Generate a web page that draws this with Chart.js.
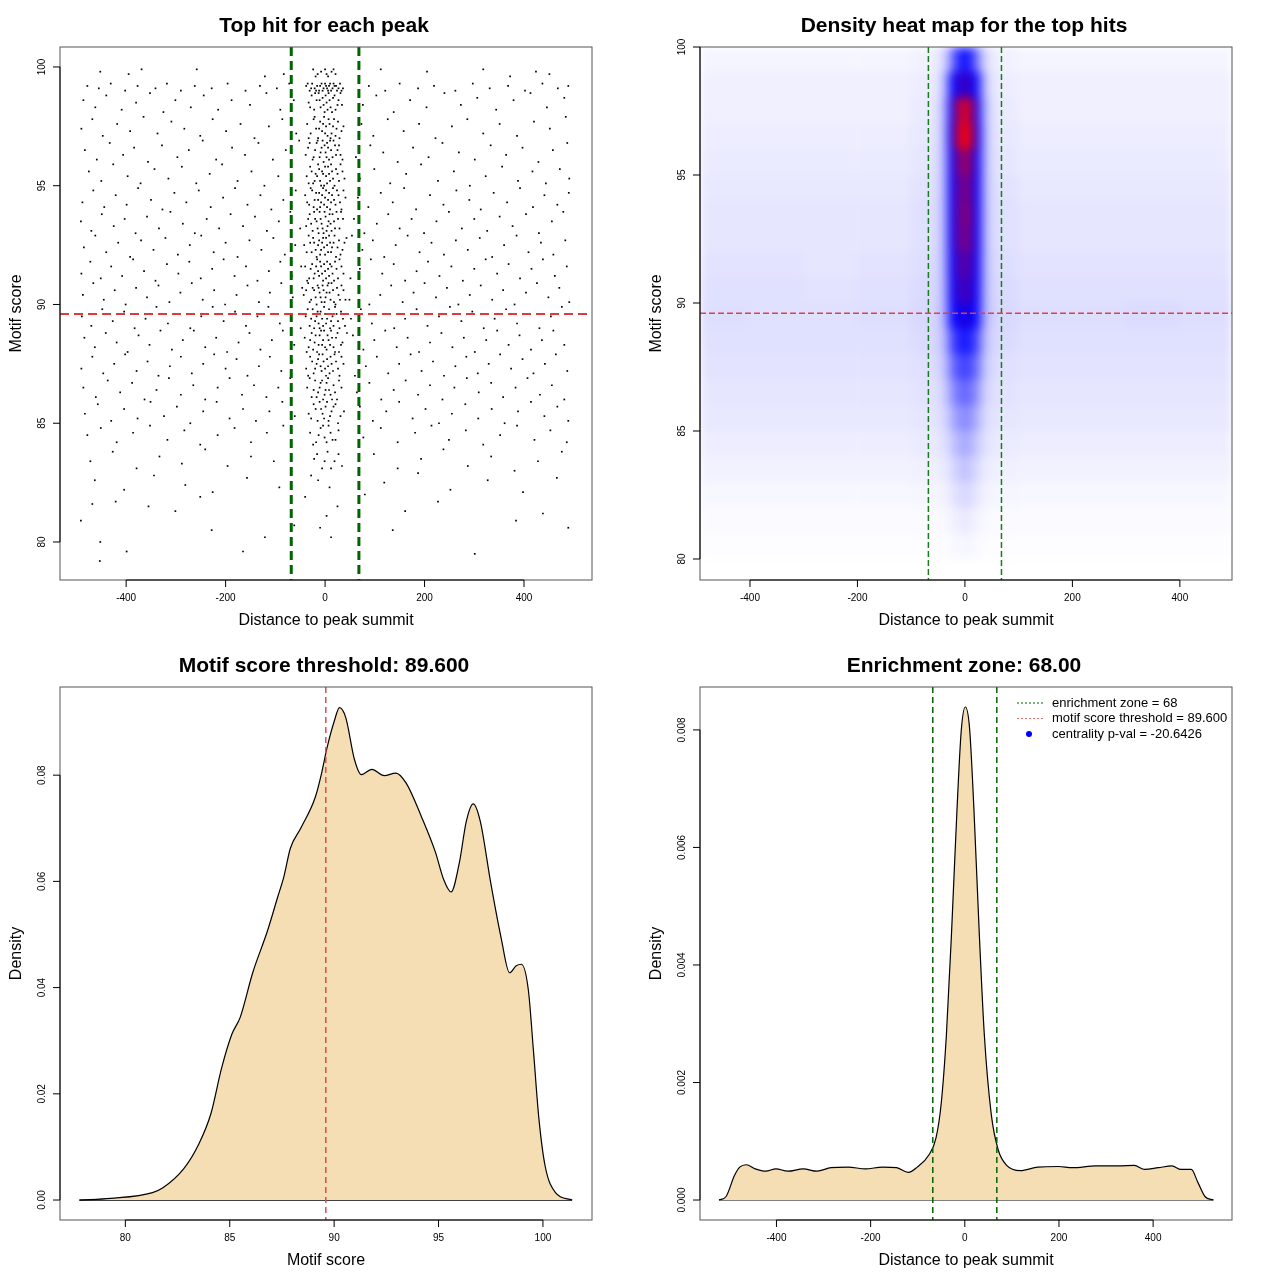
<!DOCTYPE html>
<html>
<head>
<meta charset="utf-8">
<script src="https://cdn.jsdelivr.net/npm/chart.js@4.4.1/dist/chart.umd.min.js"></script>
<style>
  body { margin: 0; background: #fff; }
  canvas { position: absolute; }
</style>
</head>
<body>
<canvas id="hits" width="640" height="640" style="left:0;top:0"></canvas>
<canvas id="heat" width="640" height="640" style="left:640px;top:0"></canvas>
<canvas id="scoreDens" width="640" height="640" style="left:0;top:640px"></canvas>
<canvas id="distDens" width="640" height="640" style="left:640px;top:640px"></canvas>
<script>
// ---- values ----
const enrichZone = 68;
const scoreThreshold = 89.6;
const distTicks = [-400, -200, 0, 200, 400];
const scoreTicks = [80, 85, 90, 95, 100];
const scoreDensTicks = [0, 0.02, 0.04, 0.06, 0.08];
const distDensTicks = [0, 0.002, 0.004, 0.006, 0.008];
const legendLabels = ['enrichment zone = 68', 'motif score threshold = 89.600', 'centrality p-val = -20.6426'];

// top hits away from the summit  [distance, score]
const flankHits = [
  [-452,99.8],[-395,99.7],[-369,99.9],[-258,99.9],[-121,99.6],[-83,99.7],[112,99.9],[205,99.8],[318,99.9],[372,99.6],[424,99.8],[451,99.7],
  [-478,99.2],[-455,99.1],[-431,99.3],[-402,99.0],[-377,99.2],[-341,99.1],[-318,99.3],[-290,99.0],[-262,99.2],[-228,99.1],[-196,99.3],[-160,99.0],[-131,99.2],[-97,99.1],[-72,99.3],[88,99.2],[121,99.0],[150,99.3],[187,99.1],[219,99.2],[262,99.0],[297,99.3],[331,99.1],[368,99.2],[402,99.0],[437,99.3],[468,99.1],[489,99.2],
  [-486,98.6],[-462,98.3],[-440,98.8],[-409,98.2],[-380,98.5],[-352,98.9],[-325,98.1],[-301,98.6],[-270,98.3],[-244,98.8],[-215,98.2],[-188,98.6],[-151,98.4],[-118,98.9],[-90,98.2],[-63,98.6],[76,98.4],[103,98.8],[138,98.1],[171,98.6],[204,98.3],[240,98.9],[273,98.4],[306,98.7],[344,98.2],[379,98.6],[413,98.9],[446,98.3],[481,98.7],
  [-490,97.4],[-468,97.8],[-447,97.1],[-418,97.6],[-392,97.3],[-365,97.9],[-337,97.2],[-309,97.7],[-283,97.4],[-251,97.1],[-226,97.8],[-199,97.3],[-170,97.6],[-142,97.0],[-113,97.5],[-86,97.8],[-58,97.2],[73,97.6],[97,97.1],[126,97.8],[158,97.3],[189,97.6],[222,97.0],[255,97.5],[286,97.8],[318,97.2],[351,97.6],[386,97.1],[420,97.7],[452,97.4],[484,97.9],
  [-483,96.5],[-459,96.1],[-433,96.8],[-406,96.3],[-384,96.6],[-356,96.0],[-328,96.7],[-297,96.2],[-274,96.5],[-246,96.9],[-219,96.1],[-187,96.6],[-161,96.3],[-134,96.8],[-105,96.1],[-79,96.5],[-52,96.9],[62,96.2],[91,96.7],[117,96.4],[146,96.0],[177,96.6],[208,96.2],[236,96.8],[269,96.4],[301,96.1],[333,96.7],[364,96.3],[397,96.6],[429,96.0],[458,96.5],[487,96.8],
  [-475,95.6],[-450,95.2],[-426,95.9],[-397,95.4],[-371,95.1],[-343,95.7],[-315,95.3],[-288,95.8],[-259,95.1],[-232,95.5],[-207,95.9],[-176,95.2],[-148,95.6],[-122,95.0],[-94,95.4],[-68,95.8],[70,95.3],[99,95.7],[131,95.1],[163,95.5],[193,95.9],[227,95.2],[259,95.6],[291,95.0],[323,95.4],[356,95.8],[388,95.2],[417,95.6],[444,95.1],[472,95.7],[491,95.3],
  [-488,94.3],[-466,94.8],[-444,94.1],[-421,94.6],[-399,94.2],[-376,94.9],[-350,94.4],[-327,94.0],[-303,94.7],[-279,94.3],[-254,94.8],[-230,94.1],[-205,94.5],[-181,94.9],[-156,94.2],[-130,94.6],[-108,94.0],[-84,94.4],[-59,94.8],[66,94.5],[87,94.1],[112,94.7],[136,94.3],[159,94.9],[183,94.0],[211,94.6],[238,94.2],[264,94.8],[290,94.4],[313,94.0],[339,94.7],[366,94.3],[392,94.9],[418,94.1],[441,94.6],[467,94.2],[490,94.7],
  [-491,93.5],[-470,93.1],[-449,93.8],[-425,93.3],[-403,93.6],[-381,93.0],[-358,93.7],[-334,93.2],[-311,93.9],[-286,93.4],[-262,93.0],[-238,93.6],[-213,93.2],[-190,93.8],[-165,93.3],[-141,93.7],[-117,93.1],[-93,93.5],[-70,93.9],[-50,93.2],[58,93.6],[79,93.0],[104,93.4],[127,93.8],[150,93.2],[174,93.6],[199,93.0],[224,93.5],[249,93.9],[275,93.2],[300,93.6],[326,93.1],[351,93.7],[377,93.3],[404,93.8],[430,93.0],[456,93.5],[479,93.9],
  [-485,92.4],[-462,92.9],[-440,92.2],[-416,92.6],[-392,92.0],[-370,92.7],[-345,92.3],[-321,92.8],[-296,92.1],[-272,92.5],[-249,92.9],[-224,92.2],[-200,92.6],[-176,92.0],[-152,92.7],[-128,92.3],[-104,92.8],[-81,92.1],[-60,92.5],[54,92.9],[75,92.3],[96,92.7],[119,92.0],[142,92.5],[166,92.9],[190,92.2],[214,92.6],[239,92.1],[263,92.7],[287,92.3],[311,92.8],[336,92.0],[360,92.5],[385,92.9],[409,92.2],[434,92.6],[459,92.1],[483,92.7],
  [-490,91.3],[-472,91.8],[-451,91.1],[-430,91.6],[-408,91.2],[-386,91.9],[-364,91.4],[-341,91.0],[-318,91.7],[-295,91.3],[-273,91.8],[-250,91.1],[-227,91.5],[-204,91.9],[-182,91.2],[-159,91.6],[-136,91.0],[-113,91.4],[-90,91.8],[-67,91.2],[-48,91.6],[51,91.1],[70,91.5],[92,91.9],[115,91.3],[138,91.7],[161,91.0],[184,91.4],[207,91.8],[230,91.2],[254,91.6],[277,91.0],[300,91.5],[323,91.9],[346,91.3],[369,91.7],[392,91.1],[415,91.5],[438,91.9],[462,91.2],[486,91.6],
  [-487,90.4],[-466,90.9],[-445,90.2],[-423,90.6],[-401,90.0],[-380,90.7],[-358,90.3],[-335,90.8],[-313,90.1],[-291,90.5],[-268,90.9],[-246,90.2],[-223,90.6],[-201,90.0],[-178,90.4],[-156,90.8],[-133,90.1],[-111,90.5],[-88,90.9],[-65,90.3],[-46,90.7],[49,90.2],[68,90.6],[89,90.0],[111,90.4],[133,90.8],[156,90.1],[178,90.5],[200,90.9],[223,90.3],[245,90.7],[268,90.0],[291,90.4],[313,90.8],[336,90.2],[358,90.6],[381,90.0],[404,90.5],[426,90.9],[449,90.3],[471,90.7],[491,90.1],
  [-489,89.5],[-470,89.1],[-448,89.8],[-427,89.3],[-404,89.7],[-383,89.0],[-361,89.4],[-339,89.9],[-316,89.2],[-294,89.6],[-271,89.0],[-249,89.5],[-226,89.9],[-204,89.3],[-181,89.7],[-159,89.1],[-136,89.5],[-114,89.9],[-91,89.2],[-69,89.6],[-49,89.0],[52,89.4],[72,89.8],[94,89.2],[116,89.6],[139,89.0],[161,89.4],[184,89.8],[206,89.1],[229,89.5],[251,89.9],[274,89.3],[296,89.7],[319,89.0],[341,89.4],[364,89.8],[386,89.2],[409,89.6],[431,89.0],[454,89.5],[476,89.9],
  [-484,88.6],[-463,88.2],[-441,88.8],[-419,88.4],[-397,88.0],[-375,88.7],[-353,88.3],[-331,88.9],[-308,88.1],[-286,88.5],[-264,88.9],[-241,88.2],[-219,88.6],[-197,88.0],[-174,88.4],[-152,88.8],[-130,88.1],[-107,88.5],[-85,88.9],[-62,88.3],[56,88.7],[77,88.1],[99,88.5],[121,88.9],[144,88.2],[166,88.6],[189,88.0],[211,88.4],[234,88.8],[256,88.2],[279,88.6],[301,88.0],[324,88.5],[346,88.9],[369,88.3],[391,88.7],[414,88.1],[436,88.5],[459,88.9],[481,88.3],
  [-490,87.3],[-468,87.8],[-446,87.1],[-424,87.5],[-402,87.9],[-379,87.2],[-357,87.6],[-335,87.0],[-312,87.4],[-290,87.8],[-268,87.1],[-245,87.5],[-223,87.9],[-200,87.3],[-178,87.7],[-156,87.0],[-133,87.4],[-111,87.8],[-88,87.2],[-66,87.6],[60,87.0],[82,87.4],[104,87.8],[127,87.1],[149,87.5],[172,87.9],[194,87.2],[217,87.6],[239,87.0],[262,87.4],[284,87.8],[307,87.1],[329,87.5],[352,87.9],[374,87.3],[397,87.7],[419,87.1],[442,87.5],[464,87.9],[487,87.2],
  [-486,86.5],[-461,86.1],[-437,86.8],[-412,86.3],[-388,86.7],[-363,86.0],[-339,86.4],[-314,86.9],[-290,86.2],[-265,86.6],[-241,86.0],[-216,86.5],[-192,86.9],[-167,86.2],[-143,86.6],[-118,86.1],[-94,86.5],[-70,86.9],[64,86.3],[89,86.7],[113,86.0],[138,86.4],[162,86.8],[187,86.2],[211,86.6],[236,86.0],[260,86.5],[285,86.9],[309,86.3],[334,86.7],[358,86.1],[383,86.5],[407,86.9],[432,86.2],[456,86.6],[481,86.0],
  [-483,85.4],[-457,85.8],[-430,85.1],[-404,85.6],[-377,85.2],[-351,85.9],[-324,85.3],[-298,85.7],[-271,85.0],[-245,85.5],[-218,85.9],[-192,85.2],[-165,85.6],[-139,85.1],[-112,85.5],[-86,85.9],[-61,85.3],[70,85.7],[96,85.1],[123,85.5],[149,85.9],[176,85.2],[202,85.6],[229,85.0],[255,85.4],[282,85.8],[308,85.2],[335,85.6],[361,85.0],[388,85.5],[414,85.9],[441,85.3],[467,85.7],[489,85.1],
  [-478,84.5],[-451,84.8],[-419,84.2],[-386,84.6],[-352,84.9],[-317,84.3],[-283,84.7],[-251,84.1],[-216,84.5],[-182,84.8],[-149,84.2],[-117,84.6],[-84,84.9],[77,84.4],[112,84.8],[146,84.2],[181,84.6],[214,84.9],[249,84.3],[283,84.7],[318,84.1],[352,84.5],[386,84.9],[421,84.3],[453,84.7],[486,84.2],
  [-472,83.4],[-427,83.8],[-379,83.1],[-333,83.6],[-288,83.3],[-241,83.9],[-196,83.2],[-149,83.6],[-103,83.4],[98,83.7],[146,83.1],[193,83.5],[238,83.9],[287,83.2],[334,83.6],[381,83.0],[428,83.4],[476,83.8],
  [-463,82.6],[-404,82.2],[-344,82.8],[-281,82.4],[-226,82.1],[-157,82.7],[-92,82.3],[119,82.5],[187,82.9],[252,82.2],[327,82.6],[398,82.1],[466,82.7],
  [-491,80.9],[-468,81.6],[-452,80.0],[-421,81.7],[-399,79.6],[-453,79.2],[-355,81.5],[-301,81.3],[-228,80.5],[-165,79.6],[-121,80.2],[-62,80.7],[136,80.5],[161,81.3],[227,81.7],[301,79.5],[384,80.9],[438,81.2],[489,80.6],[-251,81.9],[80,82.0]
];

// top hits close to the summit  [distance, score]
const centralHits = [
  [-24,99.9],[-15,99.7],[-8,99.8],[0,99.9],[6,99.6],[13,99.8],[21,99.7],[-19,99.6],[3,99.7],[17,99.9],
  [-38,99.2],[-31,99.0],[-26,99.3],[-21,99.1],[-16,99.2],[-12,99.0],[-7,99.3],[-3,99.1],[2,99.2],[6,99.0],[10,99.3],[15,99.1],[19,99.2],[24,99.0],[30,99.3],[36,99.1],
  [-35,99.3],[-28,99.1],[-18,99.0],[-10,99.2],[-5,99.0],[0,99.3],[4,99.1],[8,99.2],[12,99.0],[17,99.3],[22,99.2],[27,99.1],[33,99.0],
  [-33,98.5],[-27,98.8],[-22,98.2],[-17,98.6],[-13,98.9],[-9,98.3],[-5,98.7],[-1,98.1],[3,98.5],[7,98.9],[11,98.3],[16,98.7],[21,98.2],[27,98.6],[34,98.4],
  [-30,98.3],[-20,98.9],[-11,98.6],[-3,98.4],[1,98.8],[5,98.2],[9,98.6],[14,98.1],[19,98.8],[25,98.4],[31,98.9],
  [-36,97.6],[-29,97.2],[-23,97.8],[-18,97.4],[-14,97.0],[-10,97.7],[-6,97.3],[-2,97.9],[2,97.5],[5,97.1],[9,97.6],[13,97.2],[18,97.8],[23,97.4],[29,97.0],[37,97.5],
  [-33,97.0],[-21,97.9],[-12,97.4],[-4,97.6],[0,97.2],[7,97.8],[11,97.0],[16,97.5],[21,97.1],[26,97.7],[33,97.3],
  [-39,96.3],[-31,96.8],[-25,96.1],[-20,96.5],[-15,96.9],[-11,96.2],[-7,96.6],[-3,96.0],[1,96.4],[4,96.8],[8,96.1],[12,96.5],[17,96.9],[22,96.3],[28,96.7],[35,96.1],
  [-34,96.6],[-23,96.2],[-17,96.8],[-9,96.4],[-5,96.9],[-1,96.7],[3,96.2],[6,96.6],[10,96.9],[15,96.2],[20,96.7],[25,96.5],[31,96.3],
  [-37,95.4],[-30,95.8],[-24,95.1],[-19,95.5],[-14,95.9],[-10,95.2],[-6,95.6],[-2,95.0],[2,95.4],[6,95.8],[10,95.2],[14,95.6],[19,95.0],[25,95.5],[31,95.9],[39,95.3],
  [-33,95.1],[-27,95.6],[-21,95.2],[-16,95.4],[-12,95.7],[-8,95.0],[-4,95.5],[0,95.8],[4,95.1],[8,95.5],[12,95.9],[16,95.3],[22,95.7],[28,95.2],[35,95.6],
  [-40,94.6],[-32,94.2],[-26,94.8],[-21,94.4],[-16,94.0],[-12,94.7],[-8,94.3],[-4,94.9],[0,94.5],[4,94.1],[8,94.7],[12,94.3],[16,94.9],[21,94.2],[27,94.6],[33,94.0],[41,94.5],
  [-36,94.3],[-29,94.9],[-23,94.1],[-18,94.7],[-14,94.4],[-10,94.1],[-6,94.6],[-2,94.2],[2,94.8],[6,94.4],[10,94.0],[14,94.6],[18,94.4],[24,94.8],[30,94.3],[37,94.8],
  [-38,93.3],[-31,93.8],[-25,93.1],[-20,93.6],[-15,93.2],[-11,93.9],[-7,93.4],[-3,93.0],[1,93.7],[5,93.3],[9,93.8],[13,93.1],[18,93.5],[23,93.9],[29,93.2],[36,93.6],
  [-34,93.6],[-28,93.4],[-22,93.9],[-17,93.5],[-13,93.0],[-9,93.6],[-5,93.2],[-1,93.9],[3,93.1],[7,93.5],[11,93.4],[15,93.8],[20,93.2],[26,93.6],[32,93.9],
  [-42,92.5],[-33,92.9],[-27,92.2],[-22,92.6],[-17,92.0],[-12,92.7],[-8,92.3],[-4,92.8],[0,92.1],[4,92.5],[8,92.9],[12,92.2],[17,92.6],[22,92.0],[28,92.7],[35,92.3],[43,92.8],
  [-37,92.2],[-30,92.6],[-24,92.8],[-19,92.3],[-14,92.5],[-10,92.1],[-6,92.6],[-2,92.4],[2,92.8],[6,92.2],[10,92.6],[14,92.4],[19,92.9],[25,92.4],[31,92.1],[39,92.6],
  [-40,91.6],[-32,91.1],[-26,91.7],[-21,91.3],[-16,91.9],[-12,91.2],[-8,91.6],[-4,91.0],[0,91.4],[4,91.8],[8,91.2],[13,91.6],[18,91.0],[23,91.5],[29,91.9],[37,91.3],
  [-36,91.0],[-29,91.5],[-23,91.1],[-18,91.6],[-14,91.4],[-10,91.8],[-6,91.3],[-2,91.7],[2,91.1],[6,91.5],[10,91.7],[15,91.3],[20,91.8],[26,91.1],[33,91.6],
  [-43,90.4],[-34,90.9],[-28,90.2],[-22,90.6],[-17,90.0],[-13,90.7],[-9,90.3],[-5,90.8],[-1,90.1],[3,90.5],[7,90.9],[11,90.2],[16,90.6],[21,90.0],[27,90.4],[33,90.8],[41,90.2],
  [-38,90.6],[-31,90.1],[-25,90.7],[-19,90.3],[-15,90.8],[-11,90.5],[-7,90.1],[-3,90.6],[1,90.3],[5,90.8],[9,90.5],[13,90.9],[18,90.1],[24,90.7],[30,90.2],[37,90.6],
  [-39,89.5],[-31,89.1],[-25,89.8],[-20,89.3],[-15,89.7],[-11,89.0],[-6,89.4],[-2,89.9],[2,89.2],[6,89.6],[10,89.0],[15,89.5],[20,89.9],[26,89.3],[32,89.7],[40,89.1],
  [-35,89.8],[-28,89.4],[-22,89.0],[-17,89.5],[-13,89.2],[-9,89.7],[-4,89.1],[0,89.6],[4,89.4],[8,89.8],[12,89.3],[17,89.1],[23,89.6],[29,89.0],[36,89.4],
  [-41,88.6],[-33,88.2],[-27,88.8],[-21,88.4],[-16,88.0],[-11,88.7],[-6,88.3],[-2,88.9],[3,88.1],[7,88.5],[12,88.9],[17,88.2],[22,88.6],[28,88.0],[35,88.4],[44,88.8],
  [-37,88.0],[-30,88.5],[-24,88.1],[-19,88.7],[-13,88.3],[-8,88.9],[-4,88.5],[0,88.2],[5,88.7],[10,88.3],[14,88.6],[20,88.0],[25,88.8],[32,88.3],
  [-38,87.3],[-30,87.8],[-23,87.1],[-17,87.5],[-12,87.9],[-7,87.2],[-3,87.6],[2,87.0],[6,87.4],[11,87.8],[16,87.2],[22,87.6],[29,87.0],[37,87.5],
  [-34,87.0],[-26,87.6],[-20,87.3],[-14,87.7],[-9,87.4],[-5,87.9],[0,87.3],[4,87.7],[9,87.1],[13,87.5],[19,87.9],[26,87.3],[33,87.8],
  [-36,86.5],[-27,86.1],[-20,86.8],[-14,86.3],[-9,86.7],[-4,86.0],[1,86.4],[6,86.9],[11,86.2],[17,86.6],[24,86.0],[33,86.5],
  [-31,86.9],[-23,86.4],[-17,86.1],[-11,86.5],[-6,86.8],[-1,86.2],[3,86.7],[8,86.4],[14,86.0],[20,86.3],[28,86.8],
  [-33,85.4],[-23,85.8],[-15,85.1],[-8,85.6],[-2,85.2],[4,85.9],[10,85.3],[17,85.7],[26,85.0],[38,85.5],
  [-28,85.2],[-19,85.6],[-11,85.9],[-5,85.4],[1,85.7],[7,85.1],[13,85.5],[21,85.8],[31,85.3],
  [-30,84.6],[-18,84.2],[-9,84.8],[-1,84.4],[7,84.9],[15,84.3],[27,84.7],
  [-24,84.1],[-13,84.5],[-4,84.9],[3,84.2],[11,84.6],[21,84.3],
  [-22,83.5],[-6,83.1],[5,83.8],[19,83.4],[34,83.2],[-16,83.7],[-1,83.4],[12,83.1],[27,83.7],
  [-14,82.6],[9,82.3],[-40,81.9],[25,81.5],[3,81.1],[-10,80.6],[12,80.2],[-28,82.8]
];

// density heat map: column edges (distance), row centres (score), levels 0 = white, 0.5 = blue, 1 = red
const heatXEdges = [-493,-400,-300,-200,-100,-60,-45,-32,-22,-12,-4,4,12,22,32,45,60,100,200,300,400,497];
const heatY = [99.5,98.5,97.5,96.5,95.5,94.5,93.5,92.5,91.5,90.5,89.5,88.5,87.5,86.5,85.5,84.5,83.5,82.5,81.5,80.5,79.5];
const heatLevels = [
  [.02,.02,.02,.02,.025,.04,.08,.20,.36,.44,.46,.44,.36,.20,.08,.04,.025,.02,.02,.02,.02],
  [.03,.03,.03,.03,.035,.05,.12,.38,.52,.60,.62,.60,.52,.38,.12,.05,.035,.03,.03,.03,.03],
  [.03,.03,.03,.03,.04,.06,.14,.44,.70,.90,.95,.90,.70,.44,.14,.06,.04,.03,.03,.03,.03],
  [.035,.035,.035,.035,.045,.06,.15,.46,.75,.95,1,.95,.75,.46,.15,.06,.045,.035,.035,.035,.035],
  [.04,.04,.04,.04,.05,.065,.15,.44,.62,.78,.82,.78,.62,.44,.15,.065,.05,.04,.04,.04,.04],
  [.045,.045,.045,.045,.055,.07,.15,.44,.60,.72,.75,.72,.60,.44,.15,.07,.055,.045,.045,.045,.045],
  [.05,.05,.05,.05,.06,.075,.15,.44,.60,.74,.77,.74,.60,.44,.15,.075,.06,.05,.05,.05,.05],
  [.05,.05,.05,.05,.06,.075,.15,.44,.60,.72,.75,.72,.60,.44,.15,.075,.06,.05,.05,.05,.05],
  [.055,.055,.05,.055,.065,.08,.15,.43,.57,.66,.69,.66,.57,.43,.15,.08,.065,.055,.055,.055,.055],
  [.06,.06,.055,.06,.07,.085,.15,.42,.55,.62,.64,.62,.55,.42,.15,.085,.07,.06,.06,.06,.06],
  [.065,.06,.06,.065,.075,.09,.15,.40,.50,.55,.56,.55,.50,.40,.15,.09,.075,.065,.065,.07,.065],
  [.06,.06,.06,.06,.07,.085,.13,.30,.40,.44,.45,.44,.40,.30,.13,.085,.07,.06,.06,.06,.06],
  [.055,.055,.055,.055,.06,.075,.11,.24,.32,.36,.37,.36,.32,.24,.11,.075,.06,.055,.055,.055,.055],
  [.05,.05,.05,.05,.055,.065,.09,.18,.25,.29,.30,.29,.25,.18,.09,.065,.055,.05,.05,.05,.05],
  [.045,.045,.045,.045,.05,.055,.075,.13,.19,.22,.23,.22,.19,.13,.075,.055,.05,.045,.045,.045,.045],
  [.035,.035,.035,.035,.04,.045,.06,.09,.13,.16,.17,.16,.13,.09,.06,.045,.04,.035,.035,.035,.035],
  [.025,.025,.025,.025,.03,.032,.04,.06,.09,.11,.12,.11,.09,.06,.04,.032,.03,.025,.025,.025,.025],
  [.015,.015,.015,.015,.018,.02,.025,.04,.06,.07,.08,.07,.06,.04,.025,.02,.018,.015,.015,.015,.015],
  [.008,.008,.008,.008,.01,.01,.013,.02,.03,.04,.045,.04,.03,.02,.013,.01,.01,.008,.008,.008,.008],
  [.003,.003,.003,.003,.004,.004,.006,.01,.014,.018,.02,.018,.014,.01,.006,.004,.004,.003,.003,.003,.003],
  [0,0,0,0,0,0,0,0,0,0,0,0,0,0,0,0,0,0,0,0,0]
];

// motif score density curve
const scoreX = [77.8,79.3,81.3,81.8,82.8,83.5,84.1,84.6,85.1,85.5,86.1,86.8,87.3,87.6,87.9,88.4,89.1,89.4,89.65,90.0,90.26,90.56,90.97,91.3,91.8,92.4,92.95,93.45,94.2,94.85,95.25,95.6,96.0,96.33,96.66,97.0,97.5,98.0,98.4,98.72,98.97,99.3,99.55,99.8,100.1,100.6,101.4];
const scoreDensity = [0,0.0003,0.0014,0.0023,0.0059,0.0104,0.0163,0.0247,0.0312,0.0344,0.0428,0.0506,0.0571,0.061,0.0662,0.070,0.0759,0.0804,0.085,0.0901,0.0927,0.0908,0.083,0.0801,0.0811,0.0799,0.0804,0.0785,0.072,0.0655,0.0603,0.058,0.0636,0.0713,0.0746,0.0713,0.0597,0.0493,0.0428,0.0441,0.0444,0.0396,0.0279,0.0156,0.0065,0.0014,0];

// distance-to-summit density curve
const distX = [-522,-507,-489,-478,-464,-445,-423,-401,-376,-343,-314,-284,-248,-211,-175,-145,-120,-101,-76,-61,-50,-39,-28,-17,-7.6,1,10,19.5,30.5,41.4,56,70.7,89,118,155,199,228,279,327,360,382,411,440,459,481,495,510,528];
const distDensity = [0,0.00006,0.00042,0.00056,0.0006,0.00053,0.00049,0.00053,0.00049,0.00053,0.00049,0.00055,0.00056,0.00053,0.00056,0.00055,0.00047,0.00056,0.00077,0.00106,0.00165,0.00282,0.00458,0.00657,0.00798,0.00839,0.00804,0.00663,0.00458,0.00282,0.00147,0.00086,0.00059,0.0005,0.00056,0.00057,0.00055,0.00058,0.00058,0.00059,0.00052,0.00055,0.00058,0.00052,0.00052,0.0003,0.00006,0];

// ---- drawing ----
const FONT = '"Liberation Sans", Arial, Helvetica, sans-serif';
const RED = '#dd3b3b';
const GREEN = '#006400';

function heatColor(t) {
  if (t <= 0.5) {
    const v = Math.round(255 * (1 - 2 * t));
    return `rgb(${v},${v},255)`;
  }
  const r = Math.round(255 * (2 * t - 1));
  const b = Math.round(255 * (2 - 2 * t));
  return `rgb(${r},0,${b})`;
}

// titles, box, axes and reference lines in the style of base R graphics
const decor = {
  id: 'decor',
  afterDraw(chart, args, o) {
    const ctx = chart.ctx;
    const a = chart.chartArea;
    const xs = chart.scales.x, ys = chart.scales.y;
    const cx = (a.left + a.right) / 2, cy = (a.top + a.bottom) / 2;

    ctx.save();
    ctx.beginPath();
    ctx.rect(a.left, a.top, a.right - a.left, a.bottom - a.top);
    ctx.clip();
    (o.vLines || []).forEach(l => {
      const px = xs.getPixelForValue(l.v);
      ctx.strokeStyle = l.color; ctx.lineWidth = l.width; ctx.setLineDash(l.dash);
      ctx.beginPath(); ctx.moveTo(px, a.top); ctx.lineTo(px, a.bottom); ctx.stroke();
    });
    (o.hLines || []).forEach(l => {
      const py = ys.getPixelForValue(l.v);
      ctx.strokeStyle = l.color; ctx.lineWidth = l.width; ctx.setLineDash(l.dash);
      ctx.beginPath(); ctx.moveTo(a.left, py); ctx.lineTo(a.right, py); ctx.stroke();
    });
    ctx.restore();

    ctx.save();
    ctx.setLineDash([]);
    ctx.strokeStyle = '#555';
    ctx.lineWidth = 1;
    ctx.strokeRect(a.left, a.top, a.right - a.left, a.bottom - a.top);

    ctx.strokeStyle = '#000';
    ctx.fillStyle = '#000';
    ctx.font = '10px ' + FONT;
    ctx.textAlign = 'center';
    ctx.textBaseline = 'middle';
    const xp = o.xTicks.map(v => xs.getPixelForValue(v));
    ctx.beginPath();
    ctx.moveTo(xp[0], a.bottom); ctx.lineTo(xp[xp.length - 1], a.bottom);
    xp.forEach(px => { ctx.moveTo(px, a.bottom); ctx.lineTo(px, a.bottom + 7); });
    ctx.stroke();
    o.xTicks.forEach((v, i) => ctx.fillText(o.xFmt(v), xp[i], a.bottom + 18));

    const yp = o.yTicks.map(v => ys.getPixelForValue(v));
    ctx.beginPath();
    ctx.moveTo(a.left, yp[0]); ctx.lineTo(a.left, yp[yp.length - 1]);
    yp.forEach(py => { ctx.moveTo(a.left, py); ctx.lineTo(a.left - 7, py); });
    ctx.stroke();
    o.yTicks.forEach((v, i) => {
      ctx.save();
      ctx.translate(a.left - 18, yp[i]);
      ctx.rotate(-Math.PI / 2);
      ctx.fillText(o.yFmt(v), 0, 0);
      ctx.restore();
    });

    ctx.font = '16px ' + FONT;
    ctx.fillText(o.xLabel, cx, a.bottom + 41);
    ctx.save();
    ctx.translate(a.left - 43, cy);
    ctx.rotate(-Math.PI / 2);
    ctx.fillText(o.yLabel, 0, 0);
    ctx.restore();

    ctx.font = 'bold 21px ' + FONT;
    ctx.fillText(o.title, cx - 2, a.top - 21);

    if (o.legend) {
      ctx.font = '13px ' + FONT;
      ctx.textAlign = 'left';
      o.legend.forEach((item, i) => {
        const y = a.top + 16 + i * 15.5;
        if (item.dot) {
          ctx.fillStyle = item.color;
          ctx.beginPath(); ctx.arc(a.left + 329, y, 3, 0, Math.PI * 2); ctx.fill();
        } else {
          ctx.strokeStyle = item.color; ctx.lineWidth = 1; ctx.setLineDash([2, 2]);
          ctx.beginPath(); ctx.moveTo(a.left + 317, y); ctx.lineTo(a.left + 343, y); ctx.stroke();
          ctx.setLineDash([]);
        }
        ctx.fillStyle = '#000';
        ctx.fillText(item.text, a.left + 352, y);
      });
    }
    ctx.restore();
  }
};

// smooth the heat map cells like an image raster
const heatBlur = {
  id: 'heatBlur',
  afterDatasetsDraw(chart) {
    const c = chart.canvas, a = chart.chartArea, r = chart.currentDevicePixelRatio || 1;
    const off = document.createElement('canvas');
    off.width = c.width; off.height = c.height;
    off.getContext('2d').drawImage(c, 0, 0);
    const ctx = chart.ctx;
    ctx.save();
    ctx.setTransform(1, 0, 0, 1, 0, 0);
    ctx.beginPath();
    ctx.rect(a.left * r, a.top * r, (a.right - a.left) * r, (a.bottom - a.top) * r);
    ctx.clip();
    ctx.clearRect(0, 0, c.width, c.height);
    ctx.filter = 'blur(' + (5 * r) + 'px)';
    ctx.drawImage(off, 0, 0);
    ctx.restore();
  }
};

function baseOptions(xMin, xMax, yMin, yMax, decorOpts) {
  return {
    responsive: false,
    animation: false,
    events: [],
    layout: { padding: { left: 60, right: 48, top: 47, bottom: 60 } },
    scales: {
      x: { type: 'linear', display: false, min: xMin, max: xMax },
      y: { type: 'linear', display: false, min: yMin, max: yMax }
    },
    plugins: { legend: { display: false }, tooltip: { enabled: false }, decor: decorOpts }
  };
}

const intFmt = v => String(v);

// 1. scatter of top hits
new Chart(document.getElementById('hits'), {
  type: 'scatter',
  data: {
    datasets: [{
      data: flankHits.concat(centralHits).map(p => ({ x: p[0], y: p[1] })),
      pointStyle: 'rect', pointRadius: 1.2, borderWidth: 0,
      backgroundColor: '#000'
    }]
  },
  options: baseOptions(-533, 536.7, 78.4, 100.84, {
    title: 'Top hit for each peak', xLabel: 'Distance to peak summit', yLabel: 'Motif score',
    xTicks: distTicks, yTicks: scoreTicks, xFmt: intFmt, yFmt: intFmt,
    vLines: [
      { v: -enrichZone, color: GREEN, width: 3, dash: [9, 5] },
      { v: enrichZone, color: GREEN, width: 3, dash: [9, 5] }
    ],
    hLines: [{ v: scoreThreshold, color: RED, width: 2, dash: [9, 5] }]
  }),
  plugins: [decor]
});

// 2. density heat map: one dataset, one floating horizontal bar per cell
const heatCells = [];
const heatCellColors = [];
heatY.forEach((y, r) => {
  heatXEdges.slice(0, -1).forEach((x0, c) => {
    heatCells.push({ x: [x0, heatXEdges[c + 1]], y: y });
    heatCellColors.push(heatColor(heatLevels[r][c]));
  });
});
const heatOpts = baseOptions(-493, 497, 79.18, 100, {
  title: 'Density heat map for the top hits', xLabel: 'Distance to peak summit', yLabel: 'Motif score',
  xTicks: distTicks, yTicks: scoreTicks, xFmt: intFmt, yFmt: intFmt,
  vLines: [
    { v: -enrichZone, color: '#1b7a1b', width: 1.5, dash: [6, 3] },
    { v: enrichZone, color: '#1b7a1b', width: 1.5, dash: [6, 3] }
  ],
  hLines: [{ v: scoreThreshold, color: '#d9434a', width: 1.5, dash: [6, 3] }]
});
heatOpts.indexAxis = 'y';
heatOpts.scales.y.offset = false;
// hidden ticks on the row centres, so the bar ruler uses the full row spacing
heatOpts.scales.y.afterBuildTicks = s => { s.ticks = heatY.map(v => ({ value: v })); };
new Chart(document.getElementById('heat'), {
  type: 'bar',
  data: {
    datasets: [{
      data: heatCells,
      backgroundColor: heatCellColors,
      borderWidth: 0, barPercentage: 1, categoryPercentage: 1
    }]
  },
  options: heatOpts,
  plugins: [heatBlur, decor]
});

// 3. motif score density
new Chart(document.getElementById('scoreDens'), {
  type: 'scatter',
  data: {
    datasets: [
      {
        data: scoreX.map((x, i) => ({ x: x, y: scoreDensity[i] })),
        showLine: true, fill: 'origin', backgroundColor: '#F5DEB3',
        borderColor: '#000', borderWidth: 1.2, pointRadius: 0, cubicInterpolationMode: 'monotone'
      },
      {
        data: [{ x: scoreX[0], y: 0 }, { x: scoreX[scoreX.length - 1], y: 0 }],
        showLine: true, borderColor: '#000', borderWidth: 1.2, pointRadius: 0
      }
    ]
  },
  options: baseOptions(76.87, 102.35, -0.00376, 0.0966, {
    title: 'Motif score threshold: 89.600', xLabel: 'Motif score', yLabel: 'Density',
    xTicks: scoreTicks, yTicks: scoreDensTicks, xFmt: intFmt, yFmt: v => v.toFixed(2),
    vLines: [{ v: scoreThreshold, color: '#e0484f', width: 1.5, dash: [6, 4] }]
  }),
  plugins: [decor]
});

// 4. distance density
new Chart(document.getElementById('distDens'), {
  type: 'scatter',
  data: {
    datasets: [
      {
        data: distX.map((x, i) => ({ x: x, y: distDensity[i] })),
        showLine: true, fill: 'origin', backgroundColor: '#F5DEB3',
        borderColor: '#000', borderWidth: 1.2, pointRadius: 0, cubicInterpolationMode: 'monotone'
      },
      {
        data: [{ x: distX[0], y: 0 }, { x: distX[distX.length - 1], y: 0 }],
        showLine: true, borderColor: '#000', borderWidth: 1.2, pointRadius: 0
      }
    ]
  },
  options: baseOptions(-562.4, 567.5, -0.00034, 0.00873, {
    title: 'Enrichment zone: 68.00', xLabel: 'Distance to peak summit', yLabel: 'Density',
    xTicks: distTicks, yTicks: distDensTicks, xFmt: intFmt, yFmt: v => v.toFixed(3),
    vLines: [
      { v: -enrichZone, color: GREEN, width: 1.5, dash: [6, 4] },
      { v: enrichZone, color: GREEN, width: 1.5, dash: [6, 4] }
    ],
    legend: [
      { text: legendLabels[0], color: GREEN },
      { text: legendLabels[1], color: '#e07070' },
      { text: legendLabels[2], color: '#0000ff', dot: true }
    ]
  }),
  plugins: [decor]
});
</script>
</body>
</html>
